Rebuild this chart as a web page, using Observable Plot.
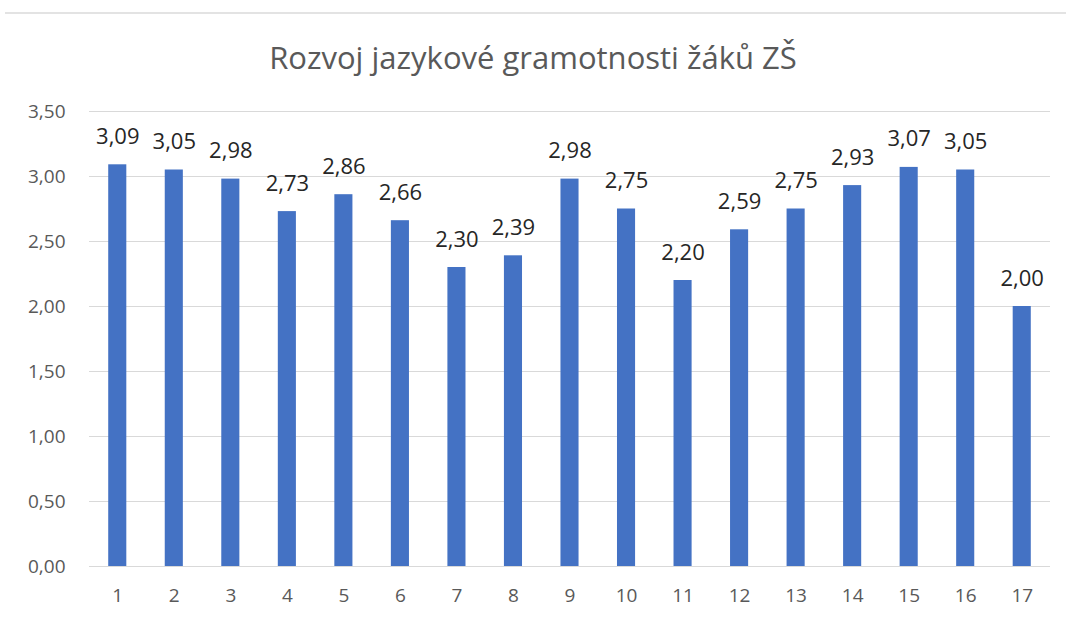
<!DOCTYPE html>
<html>
<head>
<meta charset="utf-8">
<script src="https://cdn.jsdelivr.net/npm/d3@7"></script>
<script src="https://cdn.jsdelivr.net/npm/@observablehq/plot@0.6"></script>
<style>
  html, body { margin: 0; padding: 0; background: #fff; }
  body { width: 1066px; height: 620px; overflow: hidden; font-family: "Open Sans", sans-serif; }
  #topline { margin: 12px 0 0 5px; height: 2px; background: #e3e3e3; }
  #title { height: 81px; line-height: 86px; text-align: center; font-size: 31px; color: #595959; box-sizing: border-box; }
</style>
</head>
<body>
<div id="topline"></div>
<div id="title">Rozvoj jazykové gramotnosti žáků ZŠ</div>
<div id="chart"></div>
<script>
const categories = ["1","2","3","4","5","6","7","8","9","10","11","12","13","14","15","16","17"];
const values = [3.09, 3.05, 2.98, 2.73, 2.86, 2.66, 2.30, 2.39, 2.98, 2.75, 2.20, 2.59, 2.75, 2.93, 3.07, 3.05, 2.00];
const yTicks = [0, 0.5, 1, 1.5, 2, 2.5, 3, 3.5];

const data = categories.map((c, i) => ({cat: c, value: values[i]}));
const fmt = v => v.toFixed(2).replace(".", ",");

const plot = Plot.plot({
  width: 1066,
  height: 525,
  marginTop: 16,
  marginBottom: 54,
  marginLeft: 89,
  marginRight: 16,
  style: {fontFamily: "'Open Sans', sans-serif", background: "#fff"},
  x: {domain: categories, paddingInner: 0.68, paddingOuter: 0.34, round: false, label: null},
  y: {domain: [0, 3.5], label: null},
  marks: [
    Plot.gridY(yTicks, {stroke: "#d9d9d9", strokeOpacity: 1, strokeWidth: 1}),
    Plot.barY(data, {x: "cat", y: "value", fill: "#4472c4"}),
    Plot.text(data, {x: "cat", y: "value", text: d => fmt(d.value), lineAnchor: "bottom", dy: -21, fontSize: 22, fill: "#262626"}),
    Plot.axisX({tickSize: 0, tickPadding: 22, fontSize: 19, color: "#595959", label: null}),
    Plot.axisY(yTicks, {tickSize: 0, tickPadding: 24, fontSize: 19, color: "#595959", label: null, tickFormat: fmt})
  ]
});
document.getElementById("chart").appendChild(plot);
</script>
</body>
</html>
